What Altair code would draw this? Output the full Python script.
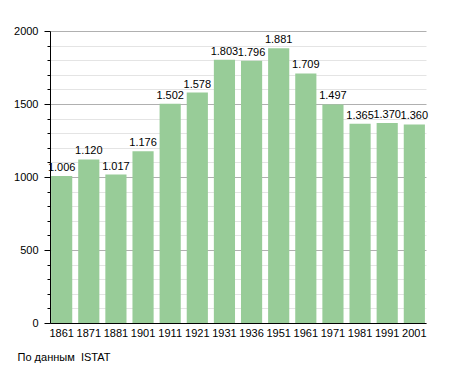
import altair as alt
import pandas as pd

years = ["1861", "1871", "1881", "1901", "1911", "1921", "1931", "1936",
         "1951", "1961", "1971", "1981", "1991", "2001"]
population = [1006, 1120, 1017, 1176, 1502, 1578, 1803, 1796,
              1881, 1709, 1497, 1365, 1370, 1360]

df = pd.DataFrame({"year": years, "pop": population})
df["label"] = [f"{v:,}".replace(",", ".") for v in population]

FONT = "Liberation Sans"
y_ticks = list(range(0, 2001, 100))

x = alt.X("year:N", sort=years, title=None,
          scale=alt.Scale(paddingInner=0.22, paddingOuter=0.04),
          axis=alt.Axis(labelAngle=0, ticks=False, domainColor="black",
                        labelFont=FONT, labelFontSize=11, labelColor="black",
                        labelPadding=4, grid=False))
y = alt.Y("pop:Q", title=None,
          scale=alt.Scale(domain=[0, 2000], nice=False),
          axis=alt.Axis(values=y_ticks, domainColor="black",
                        labelExpr="datum.value % 500 === 0 ? datum.value : ''",
                        labelFont=FONT, labelFontSize=11, labelColor="black",
                        labelPadding=6,
                        tickColor="black",
                        tickSize={"condition": {"test": "datum.value % 500 === 0", "value": 6}, "value": 3},
                        gridColor={"condition": {"test": "datum.value % 500 === 0", "value": "#b0b0b0"}, "value": "#e4e4e4"},
                        gridWidth=1))

bars = alt.Chart(df).mark_bar(color="#98cc98").encode(x=x, y=y)
text = alt.Chart(df).mark_text(baseline="bottom", dy=-3, font=FONT, fontSize=11,
                               color="black").encode(x=x, y=y, text="label:N")

chart = (bars + text).properties(
    width=376, height=292,
    autosize=alt.AutoSizeParams(type="none"),
    padding={"left": 42, "top": 23, "right": 21, "bottom": 42},
    title=alt.TitleParams("По данным\u00a0 ISTAT", orient="bottom", anchor="start",
                          font=FONT, fontSize=11, fontWeight="normal",
                          color="black", offset=14, dx=4),
).configure_view(stroke=None)

chart.save("out.html", embed_options={"renderer": "svg", "actions": False})
